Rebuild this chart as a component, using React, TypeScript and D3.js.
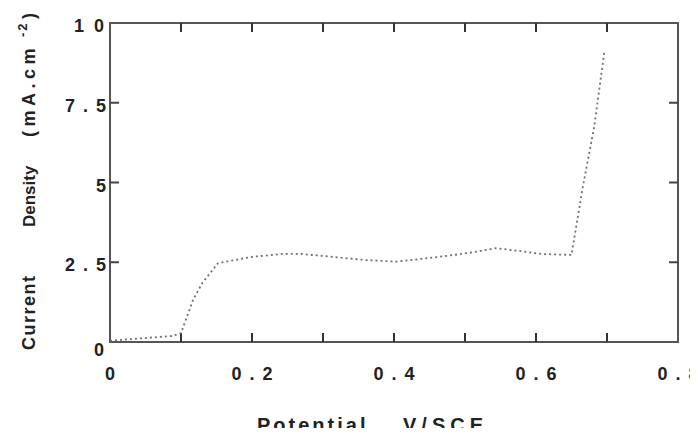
import React from "react";
import * as d3 from "d3";

// Potential (V/SCE) vs current density (mA.cm-2)
const potential = [0.0, 0.088, 0.1, 0.117, 0.13, 0.152, 0.2, 0.243, 0.27, 0.318, 0.36, 0.404, 0.46, 0.505, 0.543, 0.575, 0.607, 0.65, 0.666, 0.682, 0.696];
const current = [0.04, 0.19, 0.28, 1.32, 1.85, 2.47, 2.67, 2.76, 2.76, 2.66, 2.57, 2.52, 2.66, 2.79, 2.94, 2.86, 2.76, 2.73, 4.87, 6.75, 9.06];

const xTicks = [0, 0.2, 0.4, 0.6, 0.8];
const xMinorTicks = [0.1, 0.2, 0.3, 0.4, 0.5, 0.6, 0.7];
const yTicks = [0, 2.5, 5, 7.5, 10];
const yInnerTicks = [2.5, 5, 7.5];

const W = 698;
const H = 436;
const FONT = "'Liberation Sans', Arial, sans-serif";
const INK = "#222";
const FRAME = "#555";

export default function App() {
  const x = d3.scaleLinear().domain([0, 0.8]).range([110, 678]);
  const y = d3.scaleLinear().domain([0, 10]).range([342, 23]);

  const pts = potential.map((p, i) => [p, current[i]] as [number, number]);
  const line = d3
    .line<[number, number]>()
    .x((d) => x(d[0]))
    .y((d) => y(d[1]));

  const x0 = x(0), x1 = x(0.8), y0 = y(0), y1 = y(10);
  const tickLen = 9;

  return (
    <div style={{ margin: "-8px" }}>
      <svg width={W} height={H} style={{ display: "block", background: "#fff" }}>
        {/* frame */}
        <rect x={x0} y={y1} width={x1 - x0} height={y0 - y1} fill="none" stroke={FRAME} strokeWidth={2} />

        {/* ticks on bottom and top */}
        {xMinorTicks.map((t) => (
          <g key={"xt" + t} stroke="#333" strokeWidth={2}>
            <line x1={x(t)} x2={x(t)} y1={y0} y2={y0 - tickLen} />
            <line x1={x(t)} x2={x(t)} y1={y1} y2={y1 + tickLen} />
          </g>
        ))}
        {/* ticks on left and right */}
        {yInnerTicks.map((t) => (
          <g key={"yt" + t} stroke="#444" strokeWidth={2}>
            <line x1={x0} x2={x0 + tickLen} y1={y(t)} y2={y(t)} />
            <line x1={x1} x2={x1 - tickLen} y1={y(t)} y2={y(t)} />
          </g>
        ))}

        {/* curve */}
        <path d={line(pts) || ""} fill="none" stroke="#707070" strokeWidth={1.8} strokeDasharray="2 3" />

        {/* y tick labels */}
        {yTicks.map((t) => (
          <text
            key={"yl" + t}
            x={t === 0 ? 112 : 114}
            y={y(t) + (t === 0 ? 14 : 9)}
            textAnchor="end"
            fontFamily={FONT}
            fontWeight="bold"
            fontSize={18}
            letterSpacing={t === 10 ? 10 : 8}
            fill={INK}
          >
            {String(t)}
          </text>
        ))}

        {/* x tick labels */}
        {xTicks.map((t) => (
          <text
            key={"xl" + t}
            x={x(t) + (t === 0 ? 0 : 4)}
            y={380}
            textAnchor="middle"
            fontFamily={FONT}
            fontWeight="bold"
            fontSize={18}
            letterSpacing={t === 0 ? 0 : 8}
            fill={INK}
          >
            {String(t)}
          </text>
        ))}

        {/* x axis title */}
        <text x={257} y={432} fontFamily={FONT} fontWeight="bold" fontSize={20} letterSpacing={3} fill={INK}>
          Potential
        </text>
        <text x={403} y={432} fontFamily={FONT} fontWeight="bold" fontSize={20} letterSpacing={5} fill={INK}>
          V/SCE
        </text>

        {/* y axis title */}
        <g transform="translate(35,0) rotate(-90)" fontFamily={FONT} fontWeight="bold" fill={INK}>
          <text x={-350} y={0} fontSize={18} letterSpacing={1.5}>Current</text>
          <text x={-227} y={0} fontSize={17} letterSpacing={0}>Density</text>
          <text x={-137} y={0} fontSize={18} letterSpacing={4.5}>(mA.cm</text>
          <text x={-37} y={-8} fontSize={13} letterSpacing={2}>-2</text>
          <text x={-19} y={0} fontSize={18}>)</text>
        </g>
      </svg>
    </div>
  );
}
